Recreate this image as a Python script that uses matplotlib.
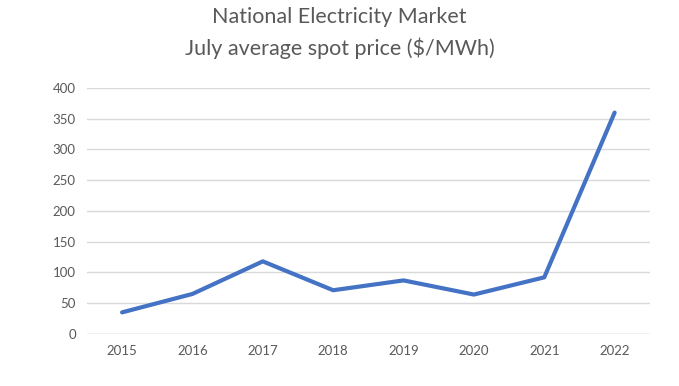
import matplotlib
matplotlib.use("Agg")
import matplotlib.pyplot as plt

# July average spot price, National Electricity Market
years = ["2015", "2016", "2017", "2018", "2019", "2020", "2021", "2022"]
prices = [35, 65, 118, 71, 87, 64, 92, 360]
y_ticks = [0, 50, 100, 150, 200, 250, 300, 350, 400]

plt.rcParams['font.family'] = ['Lato', 'DejaVu Sans']
grey = '#595959'

fig = plt.figure(figsize=(6.79, 3.86), dpi=100)
ax = fig.add_axes([0.128, 0.135, 0.829, 0.637])

ax.plot(range(len(years)), prices, color='#4472C4', linewidth=3, solid_capstyle='round')

ax.set_xlim(-0.5, len(years) - 0.5)
ax.set_ylim(0, 400)
ax.set_xticks(range(len(years)))
ax.set_xticklabels(years)
ax.set_yticks(y_ticks)
ax.grid(axis='y', color='#D9D9D9', linewidth=1)
ax.set_axisbelow(True)
ax.tick_params(length=0, labelsize=9.5, colors=grey, pad=8)
for s in ax.spines.values():
    s.set_visible(False)
ax.axhline(0, color='#D9D9D9', linewidth=1, zorder=0)

fig.text(0.5, 0.955, "National Electricity Market", ha='center', va='center', fontsize=15.5, color=grey)
fig.text(0.5, 0.875, "July average spot price ($/MWh)", ha='center', va='center', fontsize=15.5, color=grey)

fig.savefig("out.png", dpi=100)
